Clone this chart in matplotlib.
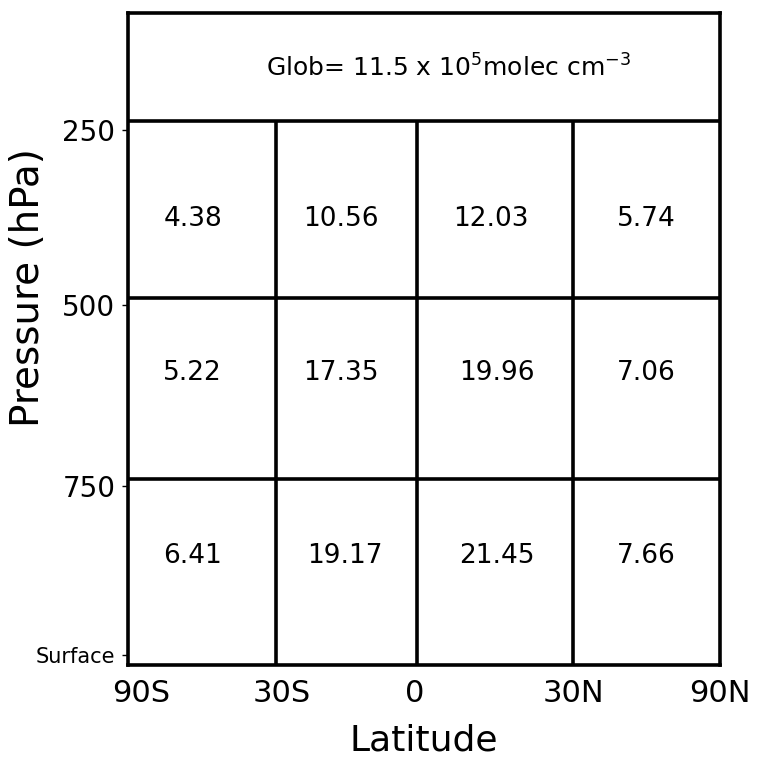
import numpy as np
import matplotlib
matplotlib.use("Agg")
import matplotlib.pyplot as plt

# latitude bands and pressure levels
lat_labels = ["90S", "30S", "0", "30N", "90N"]
p_labels = ["250", "500", "750", "Surface"]

# mean concentration per box (10^5 molec cm^-3), rows top -> bottom
vals = [[4.38, 10.56, 12.03, 5.74],
        [5.22, 17.35, 19.96, 7.06],
        [6.41, 19.17, 21.45, 7.66]]
glob = 11.5

# layout (axis units)
col_edges = [0, 1.01, 1.97, 3.03, 4]
xlab_pos = [0.09, 1.05, 1.95, 3.03, 4.03]
row_edges = [250, 494, 744, 1000]
ylab_pos = [262, 504, 754, 986]
txt_x = [[0.44, 1.45, 2.47, 3.53],
         [0.44, 1.45, 2.51, 3.53],
         [0.44, 1.48, 2.51, 3.53]]
txt_p = [385, 597, 850]

fig = plt.figure(figsize=(7.57, 7.59), dpi=100)
ax = fig.add_axes([0.169, 0.124, 0.782, 0.859])
lw = 2.6

ax.set_xlim(0, 4)
ax.set_ylim(1000, 101)

for x in col_edges[1:-1]:
    ax.plot([x, x], [250, 1000], color="k", lw=lw, solid_capstyle="butt")
for p in row_edges[:-1]:
    ax.axhline(p, color="k", lw=lw)

for i, row in enumerate(vals):
    for j, v in enumerate(row):
        ax.text(txt_x[i][j], txt_p[i], "%.2f" % v, ha="center", va="center", fontsize=19)

ax.text(2.18, 177, r"Glob= %.1f x 10$^5$molec cm$^{-3}$" % glob,
        ha="center", va="center", fontsize=18)

for s in ax.spines.values():
    s.set_linewidth(lw)

ax.set_xticks(xlab_pos)
ax.set_xticklabels(lat_labels, fontsize=22)
ax.set_yticks(ylab_pos)
ax.set_yticklabels(p_labels, fontsize=20)
ax.get_yticklabels()[-1].set_fontsize(15)
ax.tick_params(axis="y", length=4, width=1, pad=5)
ax.tick_params(axis="x", length=0, pad=10)

ax.set_xlabel("Latitude", fontsize=26, labelpad=11)
ax.set_ylabel("Pressure (hPa)", fontsize=28)
ax.yaxis.set_label_coords(-0.137, 0.578)

fig.savefig("out.png", dpi=100)
